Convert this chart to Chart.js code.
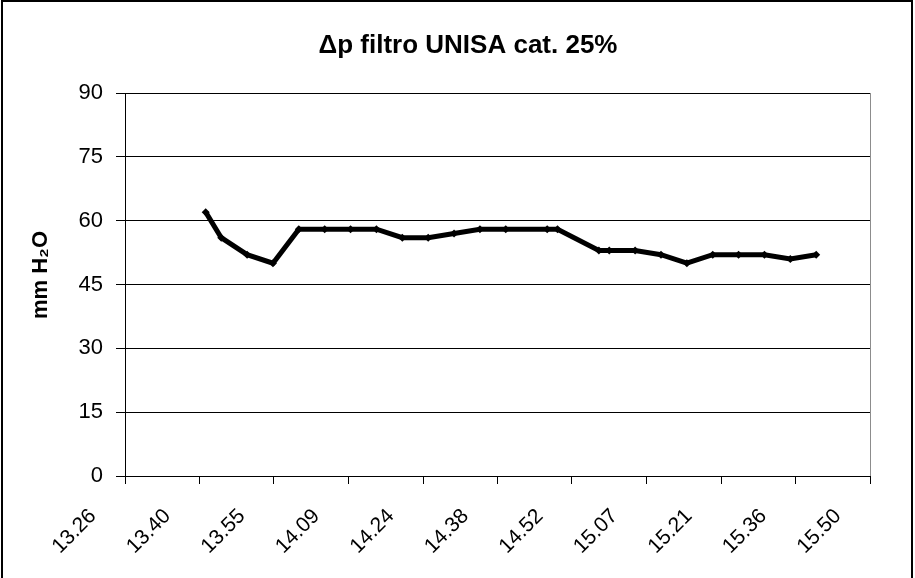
<!DOCTYPE html>
<html>
<head>
<meta charset="utf-8">
<script src="https://cdn.jsdelivr.net/npm/chart.js@4.4.1/dist/chart.umd.min.js"></script>
<style>
  html, body { margin: 0; padding: 0; background: #fff; }
  #wrap { width: 915px; height: 578px; }
</style>
</head>
<body>
<div id="wrap"><canvas id="myChart" width="915" height="578"></canvas></div>
<script>
// orari delle letture (hh.mm) e delta p in mm H2O
const times = ['13.42', '13.45', '13.50', '13.55', '14.00', '14.05', '14.10', '14.15', '14.20',
	'14.25', '14.30', '14.35', '14.40', '14.48', '14.50', '14.58', '15.00', '15.05', '15.10',
	'15.15', '15.20', '15.25', '15.30', '15.35', '15.40'];
const deltaP = [62, 56, 52, 50, 58, 58, 58, 58, 56, 56, 57, 58, 58, 58, 58, 53, 53, 53, 52,
	50, 52, 52, 52, 51, 52];

// asse x di Excel: minimo 13.26.24, passo 1/100 di giorno (14.4 min)
const xTickLabels = ['13.26', '13.40', '13.55', '14.09', '14.24', '14.38', '14.52', '15.07',
	'15.21', '15.36', '15.50'];
const xMin = 13 * 60 + 26.4;
const xStep = 14.4;
const yTicks = [0, 15, 30, 45, 60, 75, 90];

const titleText = '\u0394p filtro UNISA cat. 25%';
const yTitleText = 'mm H\u2082O';

function toMinutes(t) {
	const parts = t.split('.');
	return parseInt(parts[0]) * 60 + parseInt(parts[1]);
}

const points = times.map((t, i) => ({ x: toMinutes(t), y: deltaP[i] }));

const frame = {
	id: 'frame',
	afterDraw(chart) {
		const ctx = chart.ctx;
		const a = chart.chartArea;
		ctx.save();
		// bordo grigio a destra dell'area del grafico
		ctx.strokeStyle = '#8c8c8c';
		ctx.lineWidth = 1;
		ctx.beginPath();
		ctx.moveTo(a.right + 0.5, a.top);
		ctx.lineTo(a.right + 0.5, a.bottom);
		ctx.stroke();
		// titolo
		ctx.fillStyle = '#000';
		ctx.font = 'bold 26px "Liberation Sans"';
		ctx.textAlign = 'center';
		ctx.textBaseline = 'alphabetic';
		ctx.fillText(titleText, 468, 53);
		// titolo asse y
		ctx.font = 'bold 22px "Liberation Sans"';
		ctx.translate(47, 275);
		ctx.rotate(-Math.PI / 2);
		ctx.fillText(yTitleText, 0, 0);
		ctx.setTransform(1, 0, 0, 1, 0, 0);
		// cornice esterna
		ctx.strokeStyle = '#000';
		ctx.lineWidth = 2;
		ctx.strokeRect(2, 1, 910, 600);
		ctx.restore();
	}
};

new Chart(document.getElementById('myChart'), {
	type: 'line',
	data: {
		datasets: [
			{
				data: points,
				borderColor: '#000',
				backgroundColor: '#000',
				borderWidth: 5,
				pointStyle: 'rectRot',
				pointRadius: 4,
				pointBorderWidth: 0,
				tension: 0
			}
		]
	},
	options: {
		responsive: false,
		animation: false,
		layout: { padding: { left: 20, right: 45, top: 93, bottom: 0 } },
		plugins: {
			legend: { display: false },
			tooltip: { enabled: false },
			title: { display: false }
		},
		scales: {
			x: {
				type: 'linear',
				min: xMin,
				max: xMin + xStep * (xTickLabels.length - 1),
				afterBuildTicks: axis => {
					axis.ticks = xTickLabels.map((_, i) => ({ value: xMin + i * xStep }));
				},
				afterFit: axis => {
					axis.height = 102;
					axis.paddingLeft = 0;
					axis.paddingRight = 0;
				},
				ticks: {
					color: '#000',
					font: { family: 'Liberation Sans', size: 21 },
					maxRotation: 45,
					minRotation: 45,
					autoSkip: false,
					labelOffset: -32,
					padding: 20,
					callback: (value, index) => xTickLabels[index]
				},
				grid: {
					drawOnChartArea: false,
					drawTicks: true,
					tickLength: 8,
					color: '#000'
				},
				border: { display: true, color: '#000', width: 1 }
			},
			y: {
				min: 0,
				max: 90,
				afterBuildTicks: axis => {
					axis.ticks = yTicks.map(v => ({ value: v }));
				},
				afterFit: axis => {
					axis.width = 105;
				},
				ticks: {
					color: '#000',
					font: { family: 'Liberation Sans', size: 22 },
					padding: 13
				},
				grid: {
					color: '#000',
					lineWidth: 1,
					drawTicks: true,
					tickLength: 9
				},
				border: { display: true, color: '#000', width: 1 }
			}
		}
	},
	plugins: [frame]
});
</script>
</body>
</html>
